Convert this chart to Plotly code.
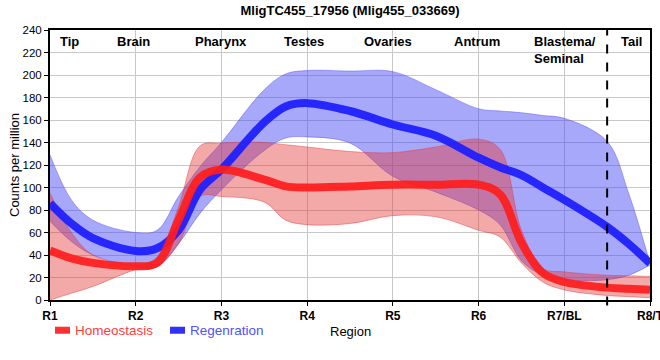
import plotly.graph_objects as go

# category ticks
categories = ["R1", "R2", "R3", "R4", "R5", "R6", "R7/BL", "R8/T"]
# sample positions along the region axis (category index)
pos = [0, 0.25, 0.5, 1, 1.25, 1.5, 1.75, 2, 2.5, 2.75, 3, 3.5, 4, 4.5,
       5, 5.25, 5.5, 5.75, 6, 6.5, 6.75, 7]

homeo_mean = [44, 37, 33, 30, 33, 71, 109, 116, 107, 101, 100, 101, 102.5, 102.5,
              102.5, 94, 51, 24, 16, 11, 10, 9]
homeo_upper = [95, 60, 40, 31, 38, 83, 137, 139.5, 140, 138, 136, 132, 131, 136,
               143, 134, 62, 28, 25, 22, 21.5, 21]
homeo_lower = [0, 6, 12, 27, 30, 50, 92, 92, 87, 71, 67, 68, 75, 74,
               62, 56, 33, 16, 9, 4, 3, 2]

regen_mean = [86, 68, 55, 43.5, 46, 62, 98, 116, 158, 172, 175, 168, 156, 146,
              126.5, 118, 111, 100, 89, 65, 50, 32.6]
regen_upper = [129, 89, 71, 60, 62, 92, 118.5, 140, 187, 201, 204, 203.5, 203, 187,
               170, 168, 166.5, 164, 161.5, 141, 95, 32.6]
regen_lower = [70, 52, 40, 29.6, 29.6, 50, 77, 98, 133, 144, 145, 139.5, 110, 96,
               80, 67, 35, 22, 18, 18, 22, 31]

region_labels = ["Tip", "Brain", "Pharynx", "Testes", "Ovaries", "Antrum",
                 "Blastema/<br>Seminal", "Tail"]
label_x = [0.23, 0.97, 1.99, 2.96, 3.94, 4.98, 6.01, 6.78]

series_names = ["Homeostasis", "Regenration"]

RED = "rgb(255,28,28)"
BLUE = "rgb(28,28,255)"
RED_FILL = "rgba(228,50,50,0.42)"
BLUE_FILL = "rgba(70,70,245,0.47)"

fig = go.Figure()

def band(lower, upper, fill, edge):
    fig.add_trace(go.Scatter(x=pos, y=lower, mode="lines",
                             line=dict(color=edge, width=0.8, shape="spline", smoothing=1.0),
                             showlegend=False, hoverinfo="skip"))
    fig.add_trace(go.Scatter(x=pos, y=upper, mode="lines", fill="tonexty", fillcolor=fill,
                             line=dict(color=edge, width=0.8, shape="spline", smoothing=1.0),
                             showlegend=False, hoverinfo="skip"))

band(regen_lower, regen_upper, BLUE_FILL, "rgba(70,70,245,0.55)")
band(homeo_lower, homeo_upper, RED_FILL, "rgba(228,50,50,0.55)")

fig.add_trace(go.Scatter(x=pos, y=regen_mean, mode="lines", name=series_names[1],
                         line=dict(color=BLUE, width=8, shape="spline", smoothing=1.0),
                         opacity=0.92, showlegend=False))
fig.add_trace(go.Scatter(x=pos, y=homeo_mean, mode="lines", name=series_names[0],
                         line=dict(color=RED, width=8, shape="spline", smoothing=1.0),
                         opacity=0.92, showlegend=False))

annotations = []
for lab, lx in zip(region_labels, label_x):
    annotations.append(dict(x=lx, y=1.0, xref="x", yref="paper", text="<b>" + lab + "</b>",
                            showarrow=False, xanchor="center",
                            yanchor="top", yshift=-2, align="left",
                            font=dict(size=13, color="black")))

# manual legend
leg_y = -0.112
annotations.append(dict(x=(73 - 50) / 600, y=leg_y, xref="paper", yref="paper",
                        text=series_names[0], showarrow=False, xanchor="left", yanchor="middle",
                        font=dict(size=13.5, color="rgb(255,60,60)")))
annotations.append(dict(x=(188 - 50) / 600, y=leg_y, xref="paper", yref="paper",
                        text=series_names[1], showarrow=False, xanchor="left", yanchor="middle",
                        font=dict(size=13.5, color="rgb(80,80,255)")))
# axis titles
annotations.append(dict(x=0.5, y=-0.115, xref="paper", yref="paper", text="Region",
                        showarrow=False, xanchor="center", yanchor="middle",
                        font=dict(size=13, color="black")))
annotations.append(dict(x=(14 - 50) / 600, y=0.5, xref="paper", yref="paper",
                        text="Counts per million", textangle=-90, showarrow=False,
                        xanchor="center", yanchor="middle",
                        font=dict(size=13, color="black")))

shapes = [
    dict(type="line", xref="x", yref="paper", x0=6.5, x1=6.5, y0=-0.02, y1=1,
         line=dict(color="black", width=2, dash="dash")),
    dict(type="rect", xref="paper", yref="paper", x0=(55 - 50) / 600, x1=(70 - 50) / 600,
         y0=leg_y - 0.013, y1=leg_y + 0.013, fillcolor="rgb(255,50,50)", line=dict(width=0)),
    dict(type="rect", xref="paper", yref="paper", x0=(170 - 50) / 600, x1=(185 - 50) / 600,
         y0=leg_y - 0.013, y1=leg_y + 0.013, fillcolor="rgb(50,50,255)", line=dict(width=0)),
]

fig.update_layout(
    width=660, height=360,
    margin=dict(l=50, r=10, t=30, b=60, autoexpand=False),
    paper_bgcolor="white", plot_bgcolor="white",
    font=dict(family="Liberation Sans, Arial, sans-serif", size=12, color="black"),
    title=dict(text="<b>MligTC455_17956 (Mlig455_033669)</b>", x=0.5, xanchor="center",
               xref="paper", y=1 - 10 / 360, yref="container", yanchor="middle",
               font=dict(size=13)),
    showlegend=False,
    annotations=annotations,
    shapes=shapes,
    xaxis=dict(range=[0, 7], tickmode="array", tickvals=list(range(len(categories))),
               ticktext=["<b>" + c + "</b>" for c in categories],
               showgrid=True, gridcolor="rgb(200,200,200)", gridwidth=1,
               showline=True, linecolor="black", linewidth=2, mirror=True,
               ticks="outside", ticklen=4, tickcolor="black", zeroline=False,
               tickfont=dict(size=12), automargin=False, ticklabeloverflow="allow"),
    yaxis=dict(range=[0, 240], tickmode="linear", tick0=0, dtick=20,
               showgrid=True, gridcolor="rgb(200,200,200)", gridwidth=1,
               showline=True, linecolor="black", linewidth=2, mirror=True,
               ticks="outside", ticklen=4, tickcolor="black", zeroline=False,
               tickfont=dict(size=11.5), automargin=False),
)

fig.write_html("out.html", config={"displayModeBar": False},
               post_script="document.body.style.margin='0px';")
